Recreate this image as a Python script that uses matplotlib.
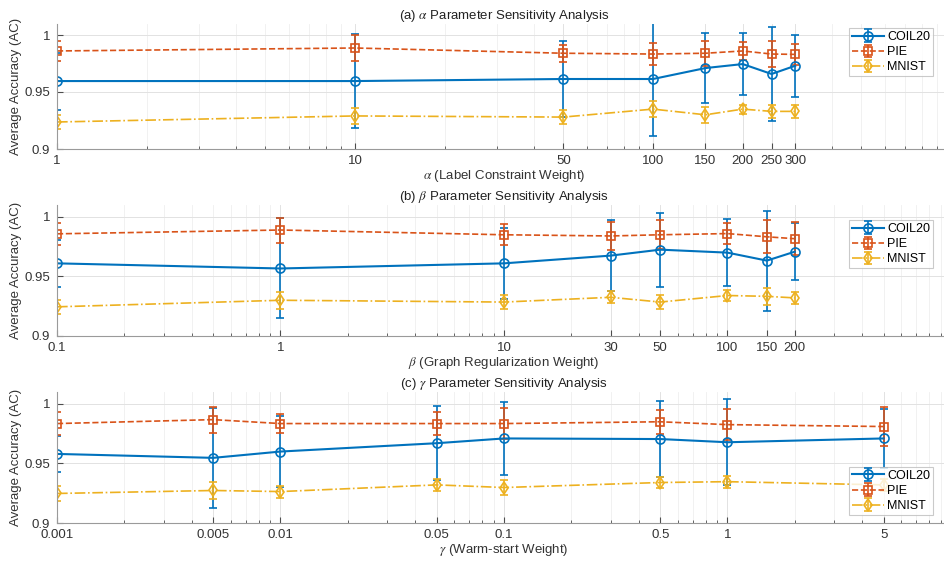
import matplotlib.pyplot as plt
from matplotlib.ticker import LogLocator, NullFormatter, FixedLocator, FixedFormatter

plt.rcParams['font.family'] = ['Liberation Sans', 'DejaVu Sans']
plt.rcParams['mathtext.fontset'] = 'stix'

# (a) alpha
alpha_x = [1, 10, 50, 100, 150, 200, 250, 300]
alpha_lbl = ['1', '10', '50', '100', '150', '200', '250', '300']
alpha_coil = [0.9596, 0.9596, 0.9614, 0.9614, 0.971, 0.9745, 0.9658, 0.973]
alpha_coil_err = [0.025, 0.041, 0.033, 0.05, 0.031, 0.027, 0.041, 0.027]
alpha_pie = [0.986, 0.9886, 0.984, 0.9833, 0.984, 0.986, 0.9833, 0.983]
alpha_pie_err = [0.009, 0.011, 0.0075, 0.01, 0.011, 0.008, 0.011, 0.009]
alpha_mnist = [0.9237, 0.929, 0.928, 0.935, 0.930, 0.935, 0.933, 0.933]
alpha_mnist_err = [0.006, 0.007, 0.006, 0.007, 0.007, 0.004, 0.006, 0.006]

# (b) beta
beta_x = [0.1, 1, 10, 30, 50, 100, 150, 200]
beta_lbl = ['0.1', '1', '10', '30', '50', '100', '150', '200']
beta_coil = [0.961, 0.9567, 0.961, 0.9675, 0.9725, 0.970, 0.9633, 0.9708]
beta_coil_err = [0.02, 0.042, 0.03, 0.03, 0.031, 0.028, 0.042, 0.024]
beta_pie = [0.9858, 0.989, 0.985, 0.984, 0.985, 0.986, 0.9833, 0.9817]
beta_pie_err = [0.009, 0.0105, 0.009, 0.012, 0.012, 0.009, 0.014, 0.014]
beta_mnist = [0.9245, 0.930, 0.9285, 0.9325, 0.9285, 0.934, 0.9333, 0.932]
beta_mnist_err = [0.006, 0.007, 0.006, 0.005, 0.006, 0.005, 0.007, 0.005]

# (c) gamma
gamma_x = [0.001, 0.005, 0.01, 0.05, 0.1, 0.5, 1, 5]
gamma_lbl = ['0.001', '0.005', '0.01', '0.05', '0.1', '0.5', '1', '5']
gamma_coil = [0.958, 0.9547, 0.960, 0.967, 0.971, 0.9705, 0.9678, 0.971]
gamma_coil_err = [0.015, 0.042, 0.03, 0.031, 0.031, 0.032, 0.036, 0.025]
gamma_pie = [0.9835, 0.9868, 0.9835, 0.9835, 0.9835, 0.985, 0.9826, 0.981]
gamma_pie_err = [0.01, 0.011, 0.008, 0.01, 0.013, 0.01, 0.013, 0.016]
gamma_mnist = [0.9248, 0.9273, 0.9264, 0.932, 0.9298, 0.934, 0.9347, 0.932]
gamma_mnist_err = [0.006, 0.007, 0.005, 0.005, 0.006, 0.005, 0.005, 0.005]

panels = [
    (alpha_x, alpha_lbl, alpha_coil, alpha_coil_err, alpha_pie, alpha_pie_err,
     alpha_mnist, alpha_mnist_err, (1, 1000),
     r'(a) $\alpha$ Parameter Sensitivity Analysis', r'$\alpha$ (Label Constraint Weight)'),
    (beta_x, beta_lbl, beta_coil, beta_coil_err, beta_pie, beta_pie_err,
     beta_mnist, beta_mnist_err, (0.1, 1000),
     r'(b) $\beta$ Parameter Sensitivity Analysis', r'$\beta$ (Graph Regularization Weight)'),
    (gamma_x, gamma_lbl, gamma_coil, gamma_coil_err, gamma_pie, gamma_pie_err,
     gamma_mnist, gamma_mnist_err, (0.001, 10),
     r'(c) $\gamma$ Parameter Sensitivity Analysis', r'$\gamma$ (Warm-start Weight)'),
]

c_blue = '#0072BD'
c_orange = '#D95319'
c_yellow = '#EDB120'

W, H = 945, 565
fig = plt.figure(figsize=(9.45, 5.65), dpi=100)
# pixel boxes: left, top, right, bottom
boxes = [(57, 23.6, 951, 149), (57, 205, 951, 336), (57, 392, 951, 523)]
legend_pos = [('upper right', (0.98, 0.965)), ('upper right', (0.98, 0.886)),
              ('lower right', (0.98, 0.06))]

for i, p in enumerate(panels):
    xs, lbl, coil, coil_e, pie, pie_e, mn, mn_e, xlim, title, xlabel = p
    l, t, r, b = boxes[i]
    ax = fig.add_axes([l / W, 1 - b / H, (r - l) / W, (b - t) / H])
    ax.errorbar(xs, coil, yerr=coil_e, color=c_blue, ls='-', lw=1.5, marker='o',
                ms=6.5, mfc='none', mew=1.2, capsize=3, elinewidth=1.2, label='COIL20')
    ax.errorbar(xs, pie, yerr=pie_e, color=c_orange, ls='--', lw=1.2, marker='s',
                ms=6, mfc='none', mew=1.2, capsize=3, elinewidth=1.2, label='PIE')
    ax.errorbar(xs, mn, yerr=mn_e, color=c_yellow, ls='-.', lw=1.2, marker='d',
                ms=6.5, mfc='none', mew=1.2, capsize=3, elinewidth=1.2, label='MNIST')
    ax.set_xscale('log')
    ax.set_xlim(*xlim)
    ax.set_ylim(0.9, 1.01)
    ax.xaxis.set_major_locator(FixedLocator(xs))
    ax.xaxis.set_major_formatter(FixedFormatter(lbl))
    ax.xaxis.set_minor_locator(LogLocator(base=10, subs=range(2, 10), numticks=20))
    ax.xaxis.set_minor_formatter(NullFormatter())
    ax.set_yticks([0.9, 0.95, 1.0])
    ax.set_yticklabels(['0.9', '0.95', '1'])
    ax.tick_params(which='both', direction='in', colors='#4d4d4d', labelsize=9.5,
                   labelcolor='#333333')
    ax.tick_params(which='major', length=4)
    ax.tick_params(axis='x', which='major', pad=4)
    ax.tick_params(axis='y', which='major', pad=5)
    ax.tick_params(which='minor', length=2.5)
    ax.grid(True, which='major', color='#e2e2e2', lw=0.7)
    ax.grid(True, which='minor', axis='x', color='#efefef', lw=0.6)
    ax.set_axisbelow(True)
    for s in ['top', 'right']:
        ax.spines[s].set_visible(False)
    for s in ['left', 'bottom']:
        ax.spines[s].set_color('#9a9a9a')
        ax.spines[s].set_linewidth(0.8)
    ax.set_title(title, fontsize=9.5, color='#222222', pad=2)
    ax.set_xlabel(xlabel, fontsize=9.5, color='#333333', labelpad=1)
    ax.set_ylabel('Average Accuracy (AC)', fontsize=9.5, color='#333333', labelpad=2)
    loc, anchor = legend_pos[i]
    leg = ax.legend(loc=loc, bbox_to_anchor=anchor, fontsize=9, frameon=True,
                    fancybox=False, edgecolor='#bdbdbd', handlelength=2.6,
                    handletextpad=0.2, borderpad=0.25, labelspacing=0.25,
                    borderaxespad=0)
    leg.get_frame().set_linewidth(0.8)

fig.savefig('out.png', dpi=100)
